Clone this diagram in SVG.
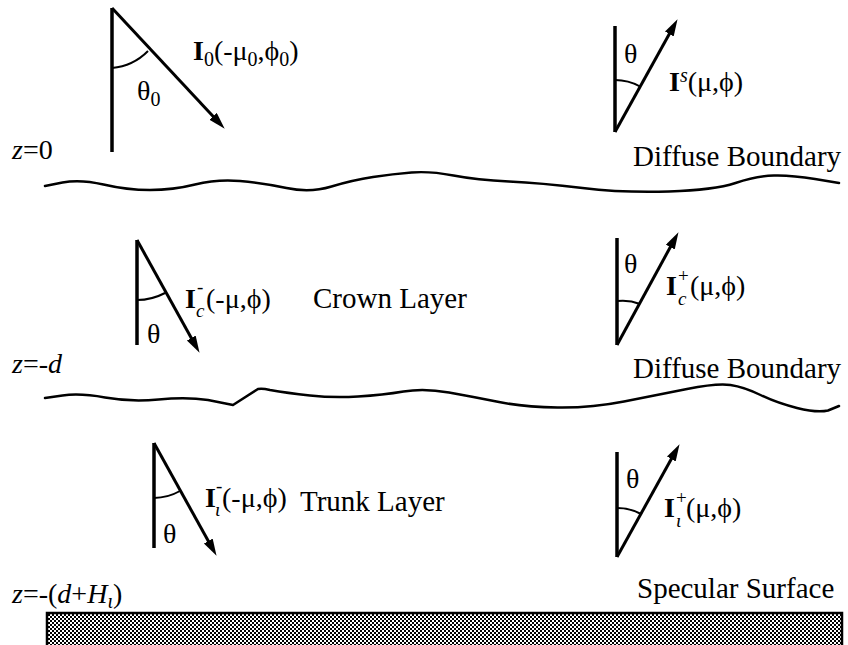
<svg xmlns="http://www.w3.org/2000/svg" width="848" height="645" viewBox="0 0 848 645">
<style>
  text { font-family: "Liberation Serif", "Times New Roman", serif; font-size: 28px; fill: #000; }
  .big { font-size: 29px; }
  .b { font-weight: bold; }
  .i { font-style: italic; }
  .s { font-size: 20px; }
  .t { font-size: 19px; }
  .ray { stroke: #000; stroke-width: 3; fill: none; }
  .ax { stroke: #000; stroke-width: 3.5; fill: none; }
  .arc { stroke: #000; stroke-width: 2; fill: none; }
  .wave { stroke: #000; stroke-width: 2.5; fill: none; stroke-linejoin: round; stroke-linecap: round; }
</style>
<defs>
  <marker id="ah" markerUnits="userSpaceOnUse" markerWidth="20" markerHeight="12" refX="6" refY="5" orient="auto">
    <path d="M0,0 L17,5 L0,10 Z" fill="#000"/>
  </marker>
  <pattern id="dither" width="4" height="4" patternUnits="userSpaceOnUse">
    <rect width="4" height="4" fill="#000"/>
    <rect width="2" height="2" fill="#fff"/>
    <rect x="2" y="2" width="2" height="2" fill="#fff"/>
  </pattern>
</defs>
<rect width="848" height="645" fill="#fff"/>

<g id="boundaries">
  <path class="wave" d="M45,186 L62.5,182.5 Q80,179 103.5,184.5 Q127,190 150,190 Q173,190 195,184.5 Q217,179 240,181 Q263,183 286.5,188 Q310,193 331.5,186.5 Q353,180 373,177 Q393,174 411.5,172.5 Q430,171 453.5,175.5 Q477,180 509,181.5 Q541,183 582.5,188 Q624,193 669,191.5 Q714,190 735.5,183 Q757,176 774,175.5 Q791,175 815,179 L839,183"/>
  <path class="wave" d="M45,398 L62.5,395.5 Q80,393 105,397.5 Q130,402 158.5,399.5 Q187,397 208,400 L233,405 L258,389 Q262,388 270,390 Q287,393 310,395.5 Q333,398 358,396.5 Q383,395 403.5,391.5 Q424,388 449,392.5 Q474,397 499,402 Q524,407 557.5,407.5 Q591,408 624,401.5 Q657,395 687,389 Q717,383 730.5,385 Q744,387 760.5,395 Q777,403 797,408 Q817,413 828,410.5 L839,406"/>
  <rect x="47" y="613" width="795" height="45" fill="url(#dither)" stroke="#000" stroke-width="2.5"/>
</g>

<g id="connectors">
  <line class="ax" x1="112" y1="8" x2="112" y2="152"/>
  <line class="ray" x1="112" y1="8" x2="217.2" y2="120.7" marker-end="url(#ah)"/>
  <path class="arc" d="M112,68 A58,58 0 0 0 148,51"/>

  <line class="ax" x1="615" y1="26" x2="615" y2="132"/>
  <line class="ray" x1="615" y1="132" x2="672.2" y2="28.75" marker-end="url(#ah)"/>
  <path class="arc" d="M615,80 A52,52 0 0 1 640,86.5"/>

  <line class="ax" x1="137" y1="240" x2="137" y2="345"/>
  <line class="ray" x1="137" y1="240" x2="194.2" y2="343.25" marker-end="url(#ah)"/>
  <path class="arc" d="M137,300 A60,60 0 0 0 165,293"/>

  <line class="ax" x1="617" y1="238" x2="617" y2="345"/>
  <line class="ray" x1="617" y1="345" x2="673.2" y2="241.8" marker-end="url(#ah)"/>
  <path class="arc" d="M617,301 A46,46 0 0 1 640,304"/>

  <line class="ax" x1="154" y1="443" x2="154" y2="548"/>
  <line class="ray" x1="154" y1="443" x2="211.2" y2="546.25" marker-end="url(#ah)"/>
  <path class="arc" d="M154,498 A55,55 0 0 0 180,491"/>

  <line class="ax" x1="617" y1="452" x2="617" y2="557"/>
  <line class="ray" x1="617" y1="557" x2="674.2" y2="453.75" marker-end="url(#ah)"/>
  <path class="arc" d="M617,508 A49,49 0 0 1 641,514"/>
</g>

<g id="n-incident">
  <text x="193" y="60"><tspan class="b">I</tspan><tspan class="s" dy="6">0</tspan><tspan dy="-6">(-μ</tspan><tspan class="s" dy="6">0</tspan><tspan dy="-6">,ϕ</tspan><tspan class="s" dy="6">0</tspan><tspan dy="-6">)</tspan></text>
  <text x="137" y="100">θ<tspan class="s" dy="6">0</tspan></text>
</g>
<g id="n-scattered">
  <text x="669" y="91"><tspan class="b">I</tspan><tspan class="s i" dy="-9">s</tspan><tspan dy="9">(μ,ϕ)</tspan></text>
  <text x="624" y="63">θ</text>
</g>
<g id="n-crown-down">
  <text x="185" y="308"><tspan class="b">I</tspan><tspan class="t" x="197" y="293">-</tspan><tspan class="t i" x="196" y="317">c</tspan><tspan x="206" y="308">(-μ,ϕ)</tspan></text>
  <text x="147" y="343">θ</text>
</g>
<g id="n-crown-up">
  <text x="666" y="295"><tspan class="b">I</tspan><tspan class="t" x="678" y="282">+</tspan><tspan class="t i" x="678" y="305">c</tspan><tspan x="690" y="295">(μ,ϕ)</tspan></text>
  <text x="624" y="273">θ</text>
</g>
<g id="n-trunk-down">
  <text x="205" y="507"><tspan class="b">I</tspan><tspan class="t" x="216" y="492">-</tspan><tspan class="t i" x="215" y="516">ι</tspan><tspan x="222" y="507">(-μ,ϕ)</tspan></text>
  <text x="163" y="543">θ</text>
</g>
<g id="n-trunk-up">
  <text x="664" y="517"><tspan class="b">I</tspan><tspan class="t" x="676" y="504">+</tspan><tspan class="t i" x="676" y="527">ι</tspan><tspan x="686" y="517">(μ,ϕ)</tspan></text>
  <text x="626" y="488">θ</text>
</g>
<g id="n-labels">
  <text x="12" y="159"><tspan class="i">z</tspan>=0</text>
  <text x="12" y="373"><tspan class="i">z</tspan>=-<tspan class="i">d</tspan></text>
  <text x="12" y="603"><tspan class="i">z</tspan>=-(<tspan class="i">d</tspan>+<tspan class="i">H</tspan><tspan class="s i" dy="5">ι</tspan><tspan dy="-5">)</tspan></text>
  <text class="big" x="633" y="166">Diffuse Boundary</text>
  <text class="big" x="633" y="378">Diffuse Boundary</text>
  <text class="big" x="313" y="308">Crown Layer</text>
  <text class="big" x="300" y="511">Trunk Layer</text>
  <text class="big" x="637" y="598">Specular Surface</text>
</g>
</svg>
